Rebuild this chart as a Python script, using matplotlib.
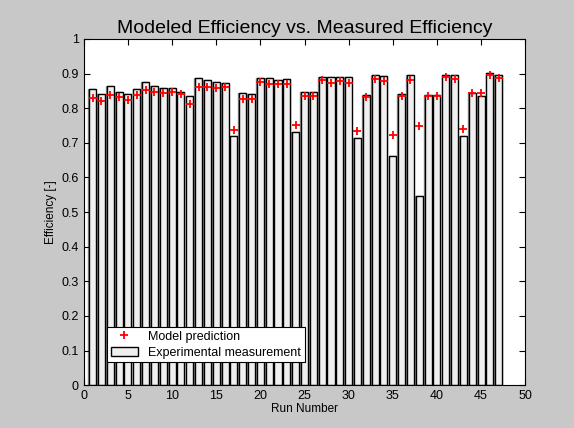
import matplotlib
matplotlib.use('Agg')
import matplotlib.pyplot as plt
import numpy as np

plt.rcParams['font.family'] = ['Liberation Sans', 'DejaVu Sans']

# values
runs = list(range(1, 48))
measured = [0.855, 0.840, 0.863, 0.847, 0.840, 0.855, 0.875, 0.863, 0.857, 0.857,
            0.847, 0.834, 0.886, 0.881, 0.875, 0.872, 0.720, 0.843, 0.840, 0.886,
            0.886, 0.881, 0.884, 0.731, 0.846, 0.846, 0.889, 0.889, 0.889, 0.889,
            0.714, 0.837, 0.895, 0.892, 0.661, 0.840, 0.895, 0.546, 0.837, 0.837,
            0.895, 0.895, 0.720, 0.843, 0.834, 0.901, 0.895]
predicted = [0.829, 0.821, 0.837, 0.831, 0.823, 0.837, 0.852, 0.847, 0.843, 0.846,
             0.840, 0.812, 0.860, 0.860, 0.858, 0.860, 0.738, 0.826, 0.826, 0.875,
             0.869, 0.869, 0.869, 0.751, 0.834, 0.834, 0.881, 0.872, 0.878, 0.872,
             0.735, 0.831, 0.884, 0.878, 0.722, 0.834, 0.881, 0.750, 0.835, 0.835,
             0.889, 0.884, 0.739, 0.843, 0.843, 0.895, 0.886]

fig = plt.figure(figsize=(5.74, 4.28), dpi=100, facecolor='#c8c8c8')
ax = fig.add_axes([0.146, 0.100, 0.769, 0.809])

x = np.array(runs)
# grey shading on the left edge of each bar, like the original render
ax.bar(x - 0.08, measured, width=0.8, color='#8c8c8c', edgecolor='#8c8c8c', linewidth=1, zorder=1)
bars = ax.bar(x, measured, width=0.8, color='#efefef', edgecolor='black', linewidth=1,
              label='Experimental measurement', zorder=2)
pts, = ax.plot(x, predicted, '+', color='red', markersize=6, markeredgewidth=1.3,
               label='Model prediction', zorder=3)

ax.set_xlim(0, 50)
ax.set_ylim(0, 1)
ax.set_xticks(range(0, 51, 5))
ax.set_yticks(np.arange(0, 1.01, 0.1))
ax.set_yticklabels(['0', '0.1', '0.2', '0.3', '0.4', '0.5', '0.6', '0.7', '0.8', '0.9', '1'])
ax.tick_params(direction='in', top=True, right=True, labelsize=9, length=4)
ax.set_title('Modeled Efficiency vs. Measured Efficiency', fontsize=14, pad=4)
ax.set_xlabel('Run Number', fontsize=8.5, labelpad=1)
ax.set_ylabel('Efficiency [-]', fontsize=8.5, labelpad=3)

leg = ax.legend(handles=[pts, bars], loc='lower left', bbox_to_anchor=(0.052, 0.066),
                borderaxespad=0, fancybox=False, edgecolor='black', framealpha=1,
                fontsize=9, handlelength=2.2, borderpad=0.3, labelspacing=0.3)
leg.get_frame().set_linewidth(0.8)

fig.savefig('out.png', dpi=100, facecolor=fig.get_facecolor())
